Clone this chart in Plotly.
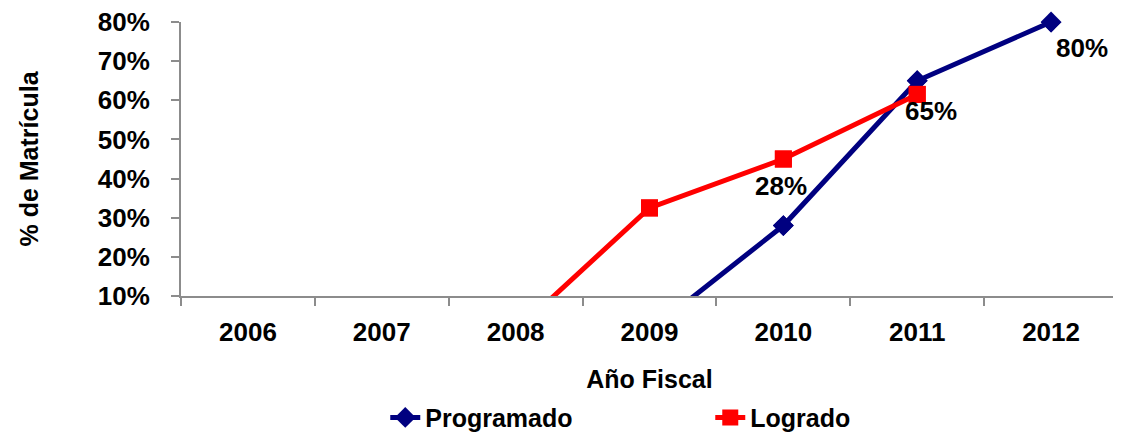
import plotly.graph_objects as go

# Data
years = ['2006', '2007', '2008', '2009', '2010', '2011', '2012']
programado = [None, None, None, 1, 28, 65, 80]
logrado = [None, None, 1, 32.5, 45, 61.5, None]
label_years = ['2010', '2011', '2012']
label_values = [28, 65, 80]

navy = '#000080'
red = '#FF0000'
font_family = 'Liberation Sans, Arial, sans-serif'
y_min, y_max = 10, 80

fig = go.Figure()

for name, vals, color, symbol, msize in [('Programado', programado, navy, 'diamond', 16),
                                         ('Logrado', logrado, red, 'square', 17)]:
    fig.add_trace(go.Scatter(
        x=years, y=vals, name=name, mode='lines+markers',
        line=dict(color=color, width=5),
        marker=dict(symbol=symbol, size=msize, color=color),
    ))
    # markers inside the axis range, unclipped so the top one shows fully
    inside = [(x, v) for x, v in zip(years, vals) if v is not None and y_min <= v <= y_max]
    fig.add_trace(go.Scatter(
        x=[p[0] for p in inside], y=[p[1] for p in inside], mode='markers',
        marker=dict(symbol=symbol, size=msize, color=color),
        cliponaxis=False, showlegend=False, hoverinfo='skip',
    ))

# data labels on Programado (category index used so annotations stay on the category scale)
offsets = [(-2, 40), (14, -30), (31, -26)]
for yr, v, (dx, dy) in zip(label_years, label_values, offsets):
    fig.add_annotation(x=years.index(yr), y=v, text=f'{v}%', showarrow=False,
                       xshift=dx, yshift=dy,
                       font=dict(size=26))

# page body has an 8px margin, so the figure is a bit smaller than the window
fig.update_layout(
    width=1113, height=432,
    plot_bgcolor='white', paper_bgcolor='white',
    margin=dict(l=173, r=3, t=14, b=144, autoexpand=False),
    font=dict(family=font_family, size=26, color='black', weight='bold'),
    xaxis=dict(
        type='category', range=[-0.5, len(years) - 0.5],
        title=dict(text='Año Fiscal', font=dict(size=25), standoff=24),
        showline=True, linecolor='#8c8c8c', linewidth=2,
        ticks='outside', tickson='boundaries', ticklen=8, tickcolor='#8c8c8c', tickwidth=2,
        ticklabelstandoff=12, tickangle=0,
        showgrid=False, zeroline=False,
    ),
    yaxis=dict(
        title=dict(text='% de Matrícula', font=dict(size=25), standoff=52),
        range=[y_min, y_max], dtick=10, ticksuffix='%',
        showline=True, linecolor='#8c8c8c', linewidth=2,
        ticks='outside', ticklen=8, tickcolor='#8c8c8c', tickwidth=2,
        ticklabelstandoff=16, ticklabeloverflow='allow',
        showgrid=False, zeroline=False,
    ),
    legend=dict(
        orientation='h', x=0.218, xanchor='left', y=-0.36, yanchor='top',
        entrywidth=280, font=dict(size=25),
    ),
)

fig.write_html('out.html')
